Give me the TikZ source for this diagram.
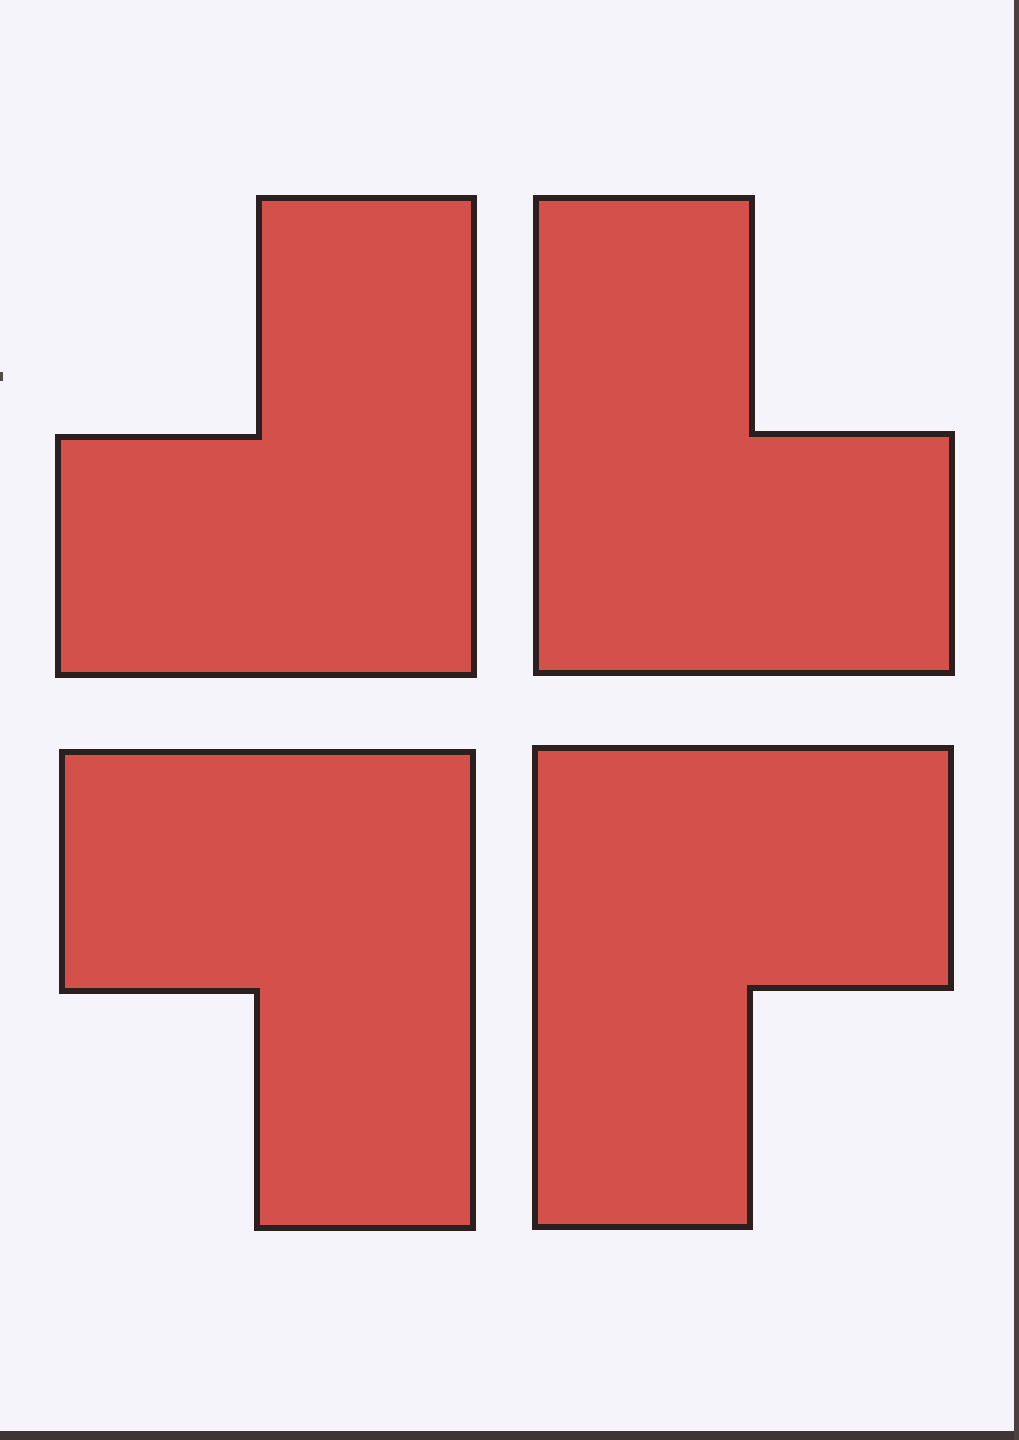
\documentclass[tikz,border=0pt]{standalone}
\begin{document}
\begin{tikzpicture}[x=1pt,y=-1pt,
  piece/.style={fill=redfill,draw=edge,line width=6.5pt,line join=miter}]
\definecolor{redfill}{HTML}{D4514B}
\definecolor{edge}{HTML}{2B1F20}
\definecolor{paper}{HTML}{F4F4FA}
\fill[paper] (0,0) rectangle (1019,1440);
\useasboundingbox (0,0) rectangle (1019,1440);
% top-left
\draw[piece] (259,198) -- (474,198) -- (474,675) -- (58,675) -- (58,437) -- (259,437) -- cycle;
% top-right
\draw[piece] (536,198) -- (752,198) -- (752,434) -- (952,434) -- (952,673) -- (536,673) -- cycle;
% bottom-left
\draw[piece] (62,752) -- (473,752) -- (473,1228) -- (257,1228) -- (257,991) -- (62,991) -- cycle;
% bottom-right
\draw[piece] (535,748) -- (951,748) -- (951,988) -- (750,988) -- (750,1227) -- (535,1227) -- cycle;
% scan artefacts
\fill[edge!90] (0,1431) rectangle (1019,1440);
\fill[edge!85] (1014,0) rectangle (1019,1440);
\fill[edge!80] (0,372) rectangle (3,381);
\end{tikzpicture}
\end{document}
